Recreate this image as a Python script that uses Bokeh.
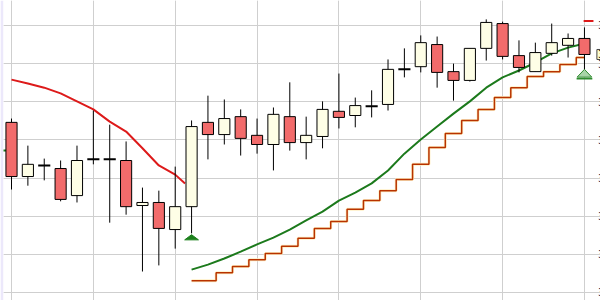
from bokeh.plotting import figure
from bokeh.models import Range1d, Grid, FixedTicker
from bokeh.core.properties import value
from bokeh.embed import file_html
from bokeh.resources import INLINE

# ---- data ----
candle_idx = list(range(36))
opens = [35.46, 34.04, 34.33, 34.25, 33.54, 34.49, 34.49, 34.46, 33.28, 33.36,
         32.65, 33.25, 35.46, 35.14, 35.61, 35.12, 34.88, 35.61, 34.93, 35.09,
         35.75, 35.64, 35.88, 35.93, 36.85, 36.92, 37.50, 36.79, 36.56, 37.40,
         38.05, 37.21, 36.79, 37.27, 37.48, 37.66]
highs = [35.56, 34.85, 34.51, 34.46, 34.85, 35.77, 35.40, 34.96, 33.75, 33.67,
         34.30, 35.51, 36.16, 36.06, 35.80, 35.56, 35.85, 36.51, 35.61, 36.01,
         36.74, 36.11, 36.30, 37.11, 37.40, 37.74, 37.71, 37.00, 37.40, 38.16,
         38.10, 37.61, 37.55, 38.05, 37.79, 37.95]
lows = [33.70, 33.80, 33.94, 33.39, 33.36, 34.36, 32.83, 33.04, 31.55, 31.71,
        32.15, 32.55, 34.49, 34.88, 34.59, 34.64, 34.20, 34.72, 34.49, 34.78,
        35.30, 35.33, 35.59, 35.77, 36.64, 36.77, 36.37, 36.03, 36.53, 37.08,
        37.11, 36.77, 36.79, 37.21, 37.16, 36.82]
closes = [34.04, 34.36, 34.33, 33.44, 34.46, 34.49, 34.49, 33.25, 33.36, 32.68,
          33.25, 35.35, 35.14, 35.56, 35.04, 34.88, 35.67, 34.93, 35.12, 35.80,
          35.59, 35.90, 35.88, 36.85, 36.85, 37.55, 36.77, 36.56, 37.40, 38.08,
          37.19, 36.90, 37.29, 37.55, 37.66, 37.24]

red_ma_x = [0, 1, 2, 3, 4, 5, 6, 7, 8, 9, 10, 10.6]
red_ma = [36.58, 36.48, 36.37, 36.22, 36.01, 35.80, 35.48, 35.22, 34.78, 34.33, 34.09, 33.86]

green_ma_x = list(range(11, 36))
green_ma = [31.60, 31.73, 31.89, 32.07, 32.26, 32.44, 32.65, 32.89, 33.12, 33.41,
            33.62, 33.86, 34.20, 34.64, 35.01, 35.35, 35.69, 36.01, 36.37, 36.64,
            36.82, 37.03, 37.27, 37.42, 37.53]

stop_x = list(range(11, 36))
stop_vals = [31.31, 31.31, 31.52, 31.68, 31.86, 32.02, 32.21, 32.42, 32.68, 32.86,
             33.18, 33.41, 33.67, 33.96, 34.36, 34.80, 35.17, 35.51, 35.80, 36.11,
             36.37, 36.66, 36.79, 36.98, 37.16]

prev_green_x = [-0.6, -0.32]
prev_green = [34.72, 34.72]

red_mark_x = [34.95, 35.55]
red_mark = [38.12, 38.12]

x_grid_ticks = [0, 5, 10, 15, 20, 25, 30, 35]
y_ticks = [31, 32, 33, 34, 35, 36, 37, 38]
y_tick_labels = ["31.00", "32.00", "33.00", "34.00", "35.00", "36.00", "37.00", "38.00"]
last_label = "37.24"
buy_signal_idx = [11]
hold_signal_idx = [35]

# ---- figure ----
p = figure(width=600, height=300, output_backend="svg", toolbar_location=None,
           x_axis_location=None, y_axis_location=None,
           x_range=Range1d(-0.489, 35.98), y_range=Range1d(30.79, 38.655),
           min_border_left=3, min_border_right=0, min_border_top=0, min_border_bottom=0,
           border_fill_color="#ece8fb", background_fill_color="white")
p.outline_line_color = None

p.add_layout(Grid(dimension=0, ticker=FixedTicker(ticks=x_grid_ticks),
                  grid_line_color="#cfcfcf", grid_line_width=1))
p.add_layout(Grid(dimension=1, ticker=FixedTicker(ticks=y_ticks),
                  grid_line_color="#cfcfcf", grid_line_width=1))

# lines
p.step(stop_x, stop_vals, mode="center", line_color="#fff0c4", line_width=3)
p.step(stop_x, stop_vals, mode="center", line_color="#b83200", line_width=1.5)
p.line(green_ma_x, green_ma, line_color="#1c7a1c", line_width=2)
p.line(prev_green_x, prev_green, line_color="#1c7a1c", line_width=2)
p.line(red_ma_x, red_ma, line_color="#dd1a1a", line_width=2)
p.line(red_mark_x, red_mark, line_color="#dd1a1a", line_width=2)

# candles
up = [i for i in candle_idx if closes[i] > opens[i]]
down = [i for i in candle_idx if closes[i] < opens[i]]
doji = [i for i in candle_idx if closes[i] == opens[i]]

p.segment(x0=candle_idx, y0=lows, x1=candle_idx, y1=highs, line_color="black", line_width=1)
p.vbar(x=up, width=0.68, top=[closes[i] for i in up], bottom=[opens[i] for i in up],
       fill_color="#fefee6", line_color="black", line_width=1)
p.vbar(x=down, width=0.68, top=[opens[i] for i in down], bottom=[closes[i] for i in down],
       fill_color="#f26b6b", line_color="black", line_width=1)
p.segment(x0=[i - 0.37 for i in doji], x1=[i + 0.37 for i in doji],
          y0=[opens[i] for i in doji], y1=[opens[i] for i in doji],
          line_color="black", line_width=2)

# signal markers
half_w = 0.42
p.patches(xs=[[i - half_w, i + half_w, i] for i in buy_signal_idx],
          ys=[[lows[i] - 0.17, lows[i] - 0.17, lows[i] - 0.035] for i in buy_signal_idx],
          fill_color="#1c801c", line_color="#1c801c", line_width=1)
p.patches(xs=[[i - 0.45, i + 0.45, i] for i in hold_signal_idx],
          ys=[[lows[i] - 0.175, lows[i] - 0.175, lows[i] + 0.03] for i in hold_signal_idx],
          fill_color="#a8d4a8", line_color="#2e8b2e", line_width=1)
p.segment(x0=[i - 0.48 for i in hold_signal_idx], x1=[i + 0.48 for i in hold_signal_idx],
          y0=[lows[i] - 0.215 for i in hold_signal_idx], y1=[lows[i] - 0.215 for i in hold_signal_idx],
          line_color="#2e8b2e", line_width=1.5)

# right-edge labels (cut off by the window edge, as in the reference)
p.text(x=[35.83] * len(y_ticks), y=y_ticks, text=y_tick_labels,
       text_font=value("DejaVu Sans"), text_font_size="10px",
       text_baseline="middle", text_align="left", text_color="#2a2a55")
p.text(x=[35.76], y=[closes[-1]], text=[last_label],
       text_font=value("DejaVu Sans"), text_font_size="10px",
       text_baseline="middle", text_align="left", text_color="#222222",
       background_fill_color="#ffffd0", border_line_color="#444444", padding=1)

open("out.html", "w").write(file_html(p, INLINE))
